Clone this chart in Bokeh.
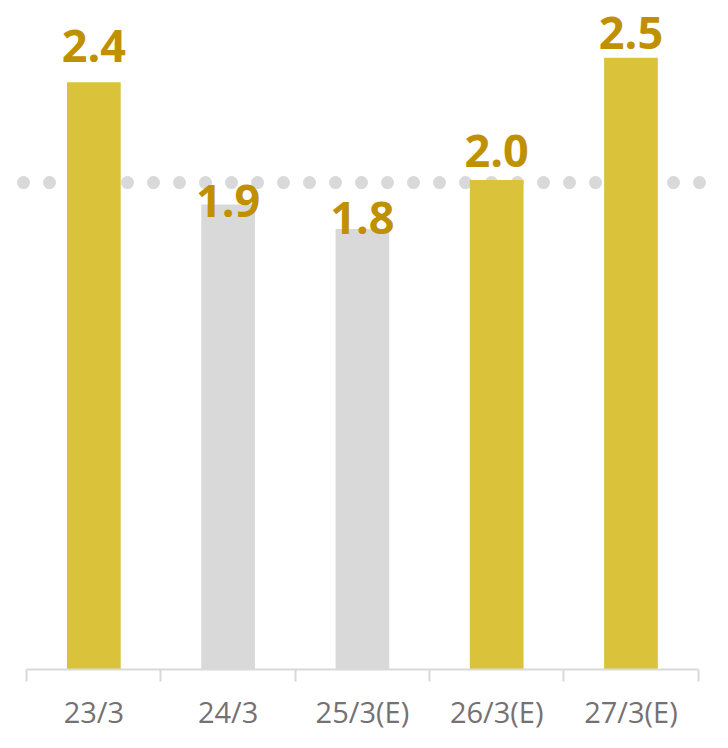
from bokeh.plotting import figure
from bokeh.models import Range1d, LinearAxis, FixedTicker, Span, ColumnDataSource
from bokeh.core.properties import value
from bokeh.embed import file_html
from bokeh.resources import INLINE

# ---- data ----
categories = ["23/3", "24/3", "25/3(E)", "26/3(E)", "27/3(E)"]
values = [2.4, 1.9, 1.8, 2.0, 2.5]
highlight = [True, False, False, True, True]
reference_level = 1.99

# ---- styles ----
YELLOW = "#DAC23B"
GREY = "#D9D9D9"
LABEL_COLOR = "#BF9000"
AXIS_TEXT = "#767171"
label_offsets_px = [-36, -4, -11, -29, -25]

n = len(categories)
centers = [i + 0.5 for i in range(n)]
boundaries = list(range(n + 1))

src = ColumnDataSource(dict(
    x=centers,
    top=values,
    color=[YELLOW if h else GREY for h in highlight],
    label=[f"{v:.1f}" for v in values],
    dy=label_offsets_px,
))

W, H = 712, 732
px_per_cat = 134.28
px_per_unit = 244.65
x0_px = 26.2     # left end of axis from figure left
y0_px = 668.9    # baseline from figure top

x_range = Range1d(-x0_px / px_per_cat, (W - x0_px) / px_per_cat)
y_range = Range1d(-(H - y0_px) / px_per_unit, y0_px / px_per_unit)

p = figure(width=W, height=H, x_range=x_range, y_range=y_range,
           output_backend="svg", toolbar_location=None,
           x_axis_location=None, y_axis_location=None, min_border=0)
p.outline_line_color = None
p.grid.visible = False
p.background_fill_color = "white"
p.border_fill_color = "white"

ref = Span(location=reference_level, dimension="width", line_color=GREY,
           line_width=13, line_dash="0 26", line_cap="round",
           line_dash_offset=3, level="underlay")
p.add_layout(ref)

p.vbar(x="x", top="top", bottom=0, width=0.4, fill_color="color",
       line_color=None, source=src)

p.text(x="x", y="top", text="label", y_offset="dy", text_align="center",
       text_baseline="alphabetic", text_font=value("Open Sans"),
       text_font_style="bold", text_font_size="45px", text_color=LABEL_COLOR,
       source=src)

xaxis = LinearAxis(
    fixed_location=0,
    ticker=FixedTicker(ticks=centers, minor_ticks=boundaries),
    bounds=(0, n),
    major_label_overrides={c: cat for c, cat in zip(centers, categories)},
    major_tick_in=0, major_tick_out=0,
    minor_tick_in=0, minor_tick_out=12,
    minor_tick_line_color=GREY, minor_tick_line_width=2,
    axis_line_color=GREY, axis_line_width=2,
    major_label_standoff=11,
    major_label_text_font="Open Sans",
    major_label_text_font_size="29px",
    major_label_text_color=AXIS_TEXT,
)
p.add_layout(xaxis, "below")

open("out.html", "w").write(file_html(p, INLINE))
